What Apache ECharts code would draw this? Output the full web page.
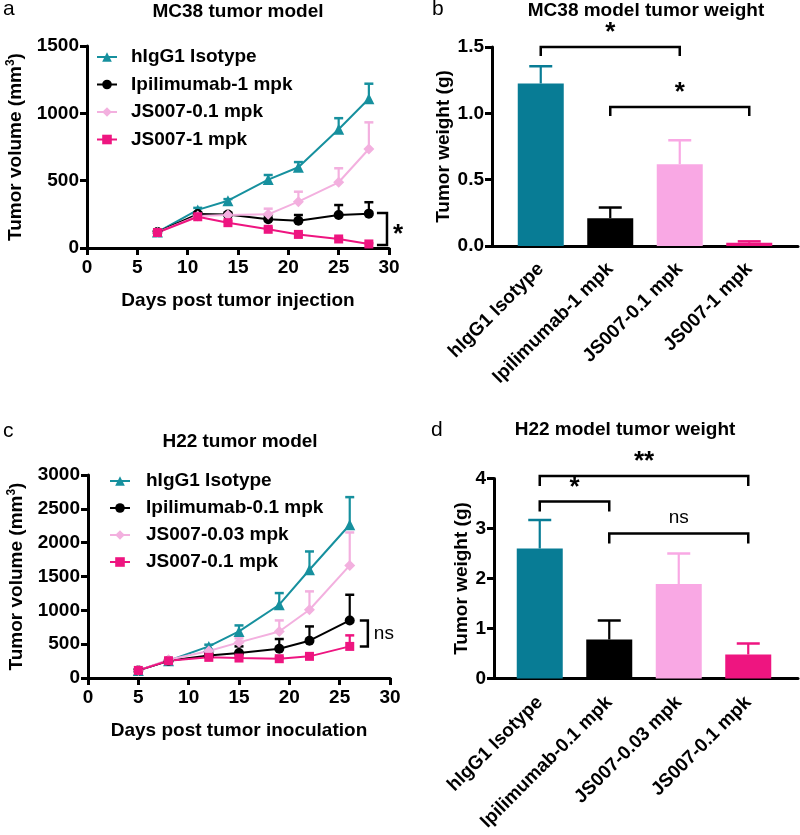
<!DOCTYPE html>
<html>
<head>
<meta charset="utf-8">
<script src="https://cdn.jsdelivr.net/npm/echarts@6/dist/echarts.min.js"></script>
<style>html,body{margin:0;padding:0;background:#fff}#main{width:800px;height:835px}</style>
</head>
<body>
<div id="main"></div>
<script>
var FONT = "'Liberation Sans', Arial, sans-serif";
var TEAL = '#16909e', TEAL_BAR = '#087c95', PINK = '#f3b0df', PINK_BAR = '#f9a8e4', MAG = '#ee1580';

// panel a - MC38 growth
var daysA = [7, 11, 14, 18, 21, 25, 28];
var isoA = [118, 283, 351, 508, 600, 882, 1108];
var isoAErr = [10, 15, 12, 34, 38, 82, 112];
var ipiA = [118, 252, 248, 213, 203, 245, 255];
var ipiAErr = [8, 12, 14, 30, 42, 74, 85];
var js01A = [115, 238, 245, 250, 344, 488, 735];
var js01AErr = [8, 12, 15, 42, 74, 104, 198];
var js1A = [115, 232, 188, 139, 101, 67, 30];
var js1AErr = [8, 10, 10, 10, 8, 6, 6];
var namesA = ['hIgG1 Isotype', 'Ipilimumab-1 mpk', 'JS007-0.1 mpk', 'JS007-1 mpk'];
var sigA = [[28.8, 29.8, 260, 22, '*']];

// panel b - MC38 weight
var catsB = ['hIgG1 Isotype', 'Ipilimumab-1 mpk', 'JS007-0.1 mpk', 'JS007-1 mpk'];
var weightB = [1.225, 0.21, 0.617, 0.025];
var weightBErr = [0.13, 0.08, 0.18, 0.01];
var sigB = [[0, 2, 1.5, '*'], [1, 3, 1.048, '*']];

// panel c - H22 growth
var daysC = [5, 8, 12, 15, 19, 22, 26];
var isoC = [112, 255, 467, 688, 1083, 1600, 2265];
var isoCErr = [15, 20, 25, 89, 172, 270, 408];
var ipiC = [112, 255, 334, 369, 433, 551, 851];
var ipiCErr = [10, 15, 36, 98, 143, 211, 379];
var js003C = [112, 270, 400, 526, 688, 1009, 1664];
var js003CErr = [10, 15, 20, 60, 163, 271, 487];
var js01C = [112, 255, 305, 295, 285, 320, 467];
var js01CErr = [10, 15, 20, 20, 20, 25, 163];
var namesC = ['hIgG1 Isotype ', 'Ipilimumab-0.1 mpk', 'JS007-0.03 mpk', 'JS007-0.1 mpk '];
var sigC = [[27.0, 27.8, 851, 467, 'ns']];

// panel d - H22 weight
var catsD = ['hIgG1 Isotype', 'Ipilimumab-0.1 mpk', 'JS007-0.03 mpk', 'JS007-0.1 mpk'];
var weightD = [2.60, 0.78, 1.89, 0.48];
var weightDErr = [0.57, 0.38, 0.61, 0.22];
var sigD = [[0, 3, 4.05, '**'], [0, 1, 3.54, '*'], [1, 3, 2.9, 'ns']];

var barColors = [TEAL_BAR, '#000000', PINK_BAR, MAG];
var lineColors = [TEAL, '#000000', PINK, MAG];
var symbols = ['triangle', 'circle', 'diamond', 'rect'];
var symSizes = [11, 10, 11, 9];

var txt = { fontFamily: FONT, fontWeight: 'bold', fontSize: 19, color: '#000' };
var axLine = { show: true, lineStyle: { color: '#000', width: 3 } };
var axTick = { show: true, length: 7, lineStyle: { color: '#000', width: 3 } };

function errLine(color, cap) {
    return function (params, api) {
        var b = api.coord([api.value(0), api.value(1)]);
        var t = api.coord([api.value(0), api.value(1) + api.value(2)]);
        var c = color || barColors[params.dataIndex];
        return {
            type: 'group', children: [
                { type: 'line', shape: { x1: b[0], y1: b[1], x2: t[0], y2: t[1] }, style: { stroke: c, lineWidth: 2.2 } },
                { type: 'line', shape: { x1: t[0] - cap, y1: t[1], x2: t[0] + cap, y2: t[1] }, style: { stroke: c, lineWidth: 2.5 } }
            ]
        };
    };
}

function barBracket(list, drop, textGap) {
    return function (params, api) {
        var s = list[params.dataIndex];
        var p1 = api.coord([s[0], s[2]]);
        var p2 = api.coord([s[1], s[2]]);
        var star = s[3].indexOf('*') >= 0;
        return {
            type: 'group', children: [
                { type: 'polyline', shape: { points: [[p1[0], p1[1] + drop], [p1[0], p1[1]], [p2[0], p2[1]], [p2[0], p2[1] + drop]] },
                  style: { stroke: '#000', lineWidth: 2.5, fill: null } },
                { type: 'text', x: (p1[0] + p2[0]) / 2, y: p1[1] - (star ? textGap[0] : textGap[1]),
                  style: { text: s[3], fontFamily: FONT, fontWeight: star ? 'bold' : 'normal', fontSize: star ? 26 : 19,
                           fill: '#000', align: 'center', verticalAlign: 'middle' } }
            ]
        };
    };
}

function sideBracket(list) {
    return function (params, api) {
        var s = list[params.dataIndex];
        var a = api.coord([s[0], s[2]]);
        var b = api.coord([s[1], s[2]]);
        var c = api.coord([s[1], s[3]]);
        var d = api.coord([s[0], s[3]]);
        var star = s[4].indexOf('*') >= 0;
        return {
            type: 'group', children: [
                { type: 'polyline', shape: { points: [a, b, c, d] }, style: { stroke: '#000', lineWidth: 2.5, fill: null } },
                { type: 'text', x: b[0] + (star ? 11 : 16), y: (b[1] + c[1]) / 2 + (star ? 6 : 0),
                  style: { text: s[4], fontFamily: FONT, fontWeight: star ? 'bold' : 'normal', fontSize: star ? 26 : 19,
                           fill: '#000', align: 'center', verticalAlign: 'middle' } }
            ]
        };
    };
}

function lineSeries(names, days, vals, errs, xi) {
    var out = [];
    names.forEach(function (n, i) {
        out.push({
            type: 'custom', name: n + '_err', xAxisIndex: xi, yAxisIndex: xi, z: 1, silent: true,
            renderItem: errLine(lineColors[i], 4.5), encode: { x: 0, y: 1 },
            data: days.map(function (d, k) { return [d, vals[i][k], errs[i][k]]; })
        });
        out.push({
            type: 'line', name: n, xAxisIndex: xi, yAxisIndex: xi, z: 3,
            symbol: symbols[i], symbolSize: symSizes[i], showSymbol: true,
            itemStyle: { color: lineColors[i] }, lineStyle: { color: lineColors[i], width: 2 },
            data: days.map(function (d, k) { return [d, vals[i][k]]; })
        });
    });
    return out;
}

function plain(v) { return String(v); }

function valueY(gi, max, step, name, gap, fmt) {
    return {
        gridIndex: gi, type: 'value', min: 0, max: max, interval: step,
        name: name, nameLocation: 'middle', nameGap: gap, nameRotate: 90,
        nameTextStyle: Object.assign({}, txt, { rich: { sup: { fontFamily: FONT, fontWeight: 'bold', fontSize: 12, verticalAlign: 'top', padding: [0, 0, 10, 0] } } }),
        axisLine: axLine, axisTick: axTick, splitLine: { show: false },
        axisLabel: Object.assign({}, txt, { margin: 8, formatter: fmt || plain })
    };
}

var chart = echarts.init(document.getElementById('main'));
var series = []
    .concat(lineSeries(namesA, daysA, [isoA, ipiA, js01A, js1A], [isoAErr, ipiAErr, js01AErr, js1AErr], 0))
    .concat(lineSeries(namesC, daysC, [isoC, ipiC, js003C, js01C], [isoCErr, ipiCErr, js003CErr, js01CErr], 3));

series.push(
    { type: 'custom', xAxisIndex: 0, yAxisIndex: 0, clip: false, silent: true, renderItem: sideBracket(sigA),
      encode: { x: 0, y: 1 }, data: sigA.map(function (s) { return [s[1], s[2]]; }) },
    { type: 'custom', xAxisIndex: 3, yAxisIndex: 3, clip: false, silent: true, renderItem: sideBracket(sigC),
      encode: { x: 0, y: 1 }, data: sigC.map(function (s) { return [s[1], s[2]]; }) },
    { type: 'bar', xAxisIndex: 1, yAxisIndex: 1, barWidth: 46, z: 2,
      data: weightB.map(function (v, i) { return { value: v, itemStyle: { color: barColors[i] } }; }) },
    { type: 'custom', xAxisIndex: 1, yAxisIndex: 1, z: 1, silent: true, renderItem: errLine(null, 11.5), encode: { x: 0, y: 1 },
      data: weightB.map(function (v, i) { return [i, v, weightBErr[i]]; }) },
    { type: 'custom', xAxisIndex: 1, yAxisIndex: 1, clip: false, silent: true, renderItem: barBracket(sigB, 9, [14, 16]),
      encode: { x: 0, y: 1 }, data: sigB.map(function (s) { return [s[0], s[2]]; }) },
    { type: 'bar', xAxisIndex: 4, yAxisIndex: 4, barWidth: 46, z: 2,
      data: weightD.map(function (v, i) { return { value: v, itemStyle: { color: barColors[i] } }; }) },
    { type: 'custom', xAxisIndex: 4, yAxisIndex: 4, z: 1, silent: true, renderItem: errLine(null, 11.5), encode: { x: 0, y: 1 },
      data: weightD.map(function (v, i) { return [i, v, weightDErr[i]]; }) },
    { type: 'custom', xAxisIndex: 4, yAxisIndex: 4, clip: false, silent: true, renderItem: barBracket(sigD, 10, [14, 16]),
      encode: { x: 0, y: 1 }, data: sigD.map(function (s) { return [s[0], s[2]]; }) }
);

var titleStyle = { fontFamily: FONT, fontWeight: 'bold', fontSize: 19, color: '#000' };
var letterStyle = { fontFamily: FONT, fontWeight: 'normal', fontSize: 21, color: '#000' };

var option = {
    animation: false,
    backgroundColor: '#fff',
    title: [
        { text: 'MC38 tumor model', left: 238, top: 2, textAlign: 'center', padding: 0, textStyle: titleStyle },
        { text: 'MC38 model tumor weight', left: 646, top: 1, textAlign: 'center', padding: 0, textStyle: titleStyle },
        { text: 'H22 tumor model', left: 240, top: 432, textAlign: 'center', padding: 0, textStyle: titleStyle },
        { text: 'H22 model tumor weight', left: 625, top: 420, textAlign: 'center', padding: 0, textStyle: titleStyle },
        { text: 'a', left: 3, top: -1, padding: 0, textStyle: letterStyle },
        { text: 'b', left: 432, top: -1, padding: 0, textStyle: letterStyle },
        { text: 'c', left: 3, top: 421, padding: 0, textStyle: letterStyle },
        { text: 'd', left: 431, top: 420, padding: 0, textStyle: letterStyle }
    ],
    legend: [
        { orient: 'vertical', left: 96, top: 47, padding: 0, itemWidth: 20, itemHeight: 12, itemGap: 7.5,
          data: namesA, textStyle: Object.assign({}, txt, { lineHeight: 20, padding: [0, 0, 0, 9] }) },
        { orient: 'vertical', left: 109, top: 471, padding: 0, itemWidth: 20, itemHeight: 12, itemGap: 7,
          data: namesC, textStyle: Object.assign({}, txt, { lineHeight: 20, padding: [0, 0, 0, 11] }) }
    ],
    grid: [
        { left: 87, top: 46, width: 302, height: 202 },
        { left: 506, top: 47, width: 278, height: 199 },
        { left: 492, top: 47, width: 306, height: 199 },
        { left: 88, top: 475, width: 302, height: 203 },
        { left: 505, top: 478.5, width: 278, height: 200 },
        { left: 494, top: 478.5, width: 304, height: 200 }
    ],
    xAxis: [
        { gridIndex: 0, type: 'value', min: 0, max: 30, interval: 5, name: 'Days post tumor injection',
          nameLocation: 'middle', nameGap: 43, nameTextStyle: txt, axisLine: axLine, axisTick: axTick,
          splitLine: { show: false }, axisLabel: Object.assign({}, txt, { margin: 10 }) },
        { gridIndex: 1, type: 'category', data: catsB, axisLine: { show: false }, axisTick: { show: false },
          axisLabel: Object.assign({}, txt, { rotate: 45, interval: 0, margin: 20 }) },
        { gridIndex: 2, type: 'value', min: 0, max: 1, axisLine: axLine, axisTick: { show: false },
          axisLabel: { show: false }, splitLine: { show: false } },
        { gridIndex: 3, type: 'value', min: 0, max: 30, interval: 5, name: 'Days post tumor inoculation',
          nameLocation: 'middle', nameGap: 43, nameTextStyle: txt, axisLine: axLine, axisTick: axTick,
          splitLine: { show: false }, axisLabel: Object.assign({}, txt, { margin: 10 }) },
        { gridIndex: 4, type: 'category', data: catsD, axisLine: { show: false }, axisTick: { show: false },
          axisLabel: Object.assign({}, txt, { rotate: 45, interval: 0, margin: 21 }) },
        { gridIndex: 5, type: 'value', min: 0, max: 1, axisLine: axLine, axisTick: { show: false },
          axisLabel: { show: false }, splitLine: { show: false } }
    ],
    yAxis: [
        valueY(0, 1500, 500, 'Tumor volume (mm{sup|3})', 60),
        Object.assign(valueY(1, 1.5, 0.5, 'Tumor weight (g)', 28, function (v) { return v.toFixed(1); }), { offset: 14 }),
        { gridIndex: 2, type: 'value', min: 0, max: 1, show: false },
        valueY(3, 3000, 500, 'Tumor volume (mm{sup|3})', 60),
        Object.assign(valueY(4, 4, 1, 'Tumor weight (g)', 22), { offset: 11 }),
        { gridIndex: 5, type: 'value', min: 0, max: 1, show: false }
    ],
    series: series
};
chart.setOption(option);
</script>
</body>
</html>
